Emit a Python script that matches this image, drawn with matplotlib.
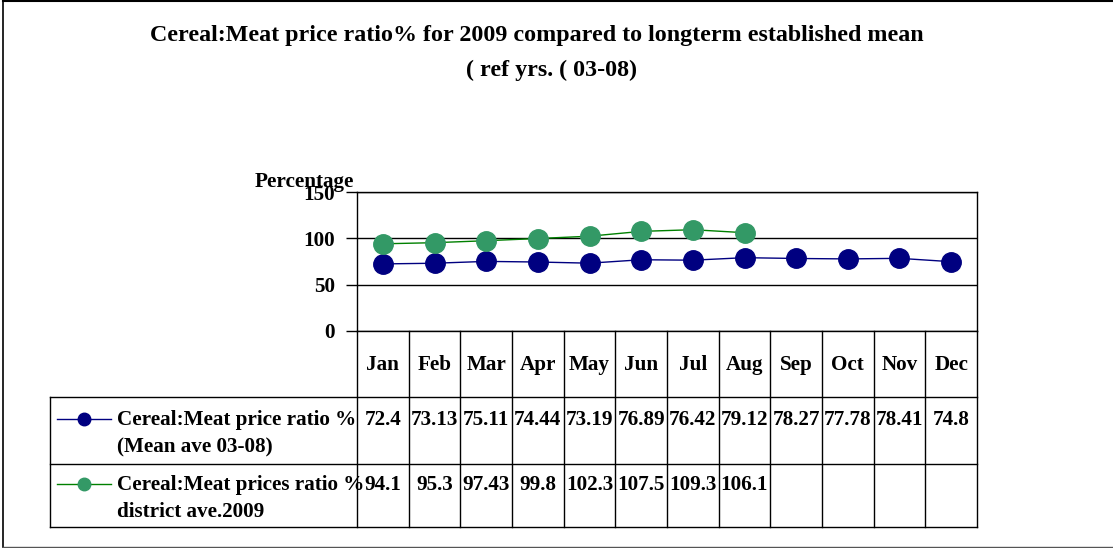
import numpy as np
import matplotlib
matplotlib.use('Agg')
import matplotlib.pyplot as plt
from matplotlib.transforms import blended_transform_factory

months = ['Jan', 'Feb', 'Mar', 'Apr', 'May', 'Jun', 'Jul', 'Aug', 'Sep', 'Oct', 'Nov', 'Dec']
mean_0308 = [72.4, 73.13, 75.11, 74.44, 73.19, 76.89, 76.42, 79.12, 78.27, 77.78, 78.41, 74.8]
district_2009 = [94.1, 95.3, 97.43, 99.8, 102.3, 107.5, 109.3, 106.1]
mean_txt = ['72.4', '73.13', '75.11', '74.44', '73.19', '76.89', '76.42', '79.12', '78.27', '77.78', '78.41', '74.8']
district_txt = ['94.1', '95.3', '97.43', '99.8', '102.3', '107.5', '109.3', '106.1']
labels = [('Cereal:Meat price ratio %', '(Mean ave 03-08)'),
          ('Cereal:Meat prices ratio %', 'district ave.2009')]
yticks = [0, 50, 100, 150]

W, H = 1113, 548
plt.rcParams['font.family'] = ['Liberation Serif', 'DejaVu Serif']
plt.rcParams['font.weight'] = 'bold'
fs = 15.2
navy = '#000080'
green = '#339966'

def fx(px):
    return px / W

def fy(py):
    return 1 - py / H

fig = plt.figure(figsize=(W / 100, H / 100), dpi=100)
ax = fig.add_axes([fx(357), fy(331), fx(977) - fx(357), fy(192) - fy(331)])
ax.set_xlim(0, 12)
ax.set_ylim(0, 150)

x = np.arange(len(months)) + 0.5
ax.plot(x, mean_0308, color=navy, lw=1, marker='o', ms=14,
        mfc=navy, mec=navy, zorder=4, clip_on=False)
ax.plot(x[:len(district_2009)], district_2009, color='#008000', lw=1, marker='o', ms=14,
        mfc=green, mec=green, zorder=4, clip_on=False)

ax.set_yticks(yticks)
ax.set_yticklabels([str(v) for v in yticks], fontsize=fs, fontweight='bold')
ax.set_xticks([])
ax.yaxis.grid(True, color='black', lw=1)
ax.tick_params(axis='y', length=8, width=1, pad=8)
for s in ax.spines.values():
    s.set_color('black')
    s.set_linewidth(1)

ax.text(fx(255), fy(182), 'Percentage', transform=fig.transFigure,
        fontsize=fs, fontweight='bold', ha='left', va='center')

# data table under the plot
tr = blended_transform_factory(ax.transData, fig.transFigure)
for i in range(13):
    ax.plot([i, i], [fy(331), fy(527)], color='black', lw=1, transform=tr, clip_on=False)
for py in [397, 464, 527]:
    fig.add_artist(plt.Line2D([fx(50), fx(977)], [fy(py), fy(py)], color='black', lw=1))
fig.add_artist(plt.Line2D([fx(50), fx(50)], [fy(397), fy(527)], color='black', lw=1))

for i, m in enumerate(months):
    ax.text(x[i], fy(365), m, transform=tr, fontsize=fs, fontweight='bold',
            ha='center', va='center')
for i, t in enumerate(mean_txt):
    ax.text(x[i], fy(420), t, transform=tr, fontsize=fs, fontweight='bold',
            ha='center', va='center')
for i, t in enumerate(district_txt):
    ax.text(x[i], fy(485), t, transform=tr, fontsize=fs, fontweight='bold',
            ha='center', va='center')

# legend keys in the table
for row, (py, col, mc) in enumerate([(419, navy, navy), (484, '#008000', green)]):
    fig.add_artist(plt.Line2D([fx(57), fx(111)], [fy(py), fy(py)], color=col, lw=1))
    fig.add_artist(plt.Line2D([fx(84)], [fy(py)], marker='o', ms=9, mfc=mc, mec=mc))
    fig.text(fx(117), fy(py + 1), labels[row][0], fontsize=fs, fontweight='bold',
             ha='left', va='center')
    fig.text(fx(117), fy(py + 28), labels[row][1], fontsize=fs, fontweight='bold',
             ha='left', va='center')

fig.text(fx(537), fy(35), 'Cereal:Meat price ratio% for 2009 compared to longterm established mean',
         fontsize=17.3, fontweight='bold', ha='center', va='center')
fig.text(fx(551), fy(70), '( ref yrs. ( 03-08)', fontsize=17.3, fontweight='bold',
         ha='center', va='center')

# chart area border
fig.add_artist(plt.Line2D([fx(3), fx(3)], [fy(1), fy(547)], color='black', lw=1.2))
fig.add_artist(plt.Line2D([fx(3), 1], [fy(1), fy(1)], color='black', lw=1.5))
fig.add_artist(plt.Line2D([fx(3), 1], [fy(547), fy(547)], color='#555555', lw=1))

fig.savefig('out.png', dpi=100)
